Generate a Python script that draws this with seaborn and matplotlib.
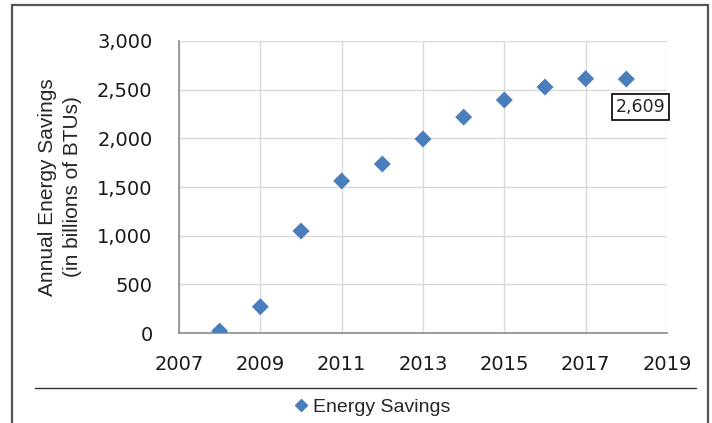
import matplotlib
matplotlib.use("Agg")
import matplotlib.pyplot as plt
from matplotlib.lines import Line2D
from matplotlib.patches import Rectangle
from matplotlib.ticker import FuncFormatter, MultipleLocator
import seaborn as sns
import pandas as pd

# Annual energy savings, billions of BTUs
years = [2008, 2009, 2010, 2011, 2012, 2013, 2014, 2015, 2016, 2017, 2018]
savings = [20, 270, 1048, 1562, 1736, 1993, 2218, 2394, 2527, 2613, 2609]
series_name = "Energy Savings"
y_label = "Annual Energy Savings\n(in billions of BTUs)"
x_ticks = [2007, 2009, 2011, 2013, 2015, 2017, 2019]

df = pd.DataFrame({"Year": years, "Savings": savings, "Series": series_name})

sns.set_style("white")
plt.rcParams["font.family"] = ["DejaVu Sans"]

blue = "#4a7ebb"
grid_c = "#d9d9d9"
axis_c = "#8c8c8c"

fig = plt.figure(figsize=(7.12, 4.23), dpi=100)
ax = fig.add_axes([179 / 712, 1 - 333 / 423, (667 - 179) / 712, (333 - 41) / 423])

sns.scatterplot(data=df, x="Year", y="Savings", hue="Series", palette=[blue],
                marker="D", s=75, edgecolor="none", ax=ax, legend=False, zorder=3)

ax.set_xlim(2007, 2019)
ax.set_ylim(0, 3000)
ax.set_xticks(x_ticks)
ax.yaxis.set_major_locator(MultipleLocator(500))
ax.yaxis.set_major_formatter(FuncFormatter(lambda v, p: f"{v:,.0f}"))
ax.set_xlabel("")
ax.set_ylabel(y_label, fontsize=15, labelpad=11, linespacing=1.4,
              family=["Liberation Sans"])

ax.grid(True, color=grid_c, lw=1.0)
ax.set_axisbelow(True)
for side in ["top", "right"]:
    ax.spines[side].set_visible(False)
for side in ["left", "bottom"]:
    ax.spines[side].set_color(axis_c)
    ax.spines[side].set_linewidth(1.2)
ax.tick_params(axis="both", which="major", labelsize=14, color=axis_c,
               length=5, width=1.0, direction="out", labelcolor="#1a1a1a")
ax.tick_params(axis="y", pad=14)
ax.tick_params(axis="x", pad=9, length=7)

# value callout on the last point
last_year, last_val = years[-1], savings[-1]
ax.annotate(f"{last_val:,.0f}", xy=(last_year, last_val), xytext=(10, -20),
            textcoords="offset points", ha="center", va="center",
            fontsize=12.5, family=["DejaVu Sans"],
            bbox=dict(boxstyle="square,pad=0.22", fc="white", ec="black", lw=1.2),
            zorder=4)

# separator above the legend
fig.add_artist(Line2D([35 / 712, 696 / 712], [1 - 388 / 423, 1 - 388 / 423],
                      transform=fig.transFigure, color="#333333", lw=1.0))

# chart frame
fig.add_artist(Rectangle((12 / 712, -0.1), (708 - 12) / 712, 1.1 - 5 / 423,
                         transform=fig.transFigure, fill=False,
                         ec="#555555", lw=1.6))

handle = Line2D([], [], marker="D", color=blue, ls="none", markersize=6)
fig.legend([handle], [series_name], loc="center", bbox_to_anchor=(371 / 712, 1 - 407 / 423),
           frameon=False, handletextpad=0.1, handlelength=1.0,
           prop={"family": ["Liberation Sans"], "size": 14})

fig.savefig("out.png", dpi=100)
